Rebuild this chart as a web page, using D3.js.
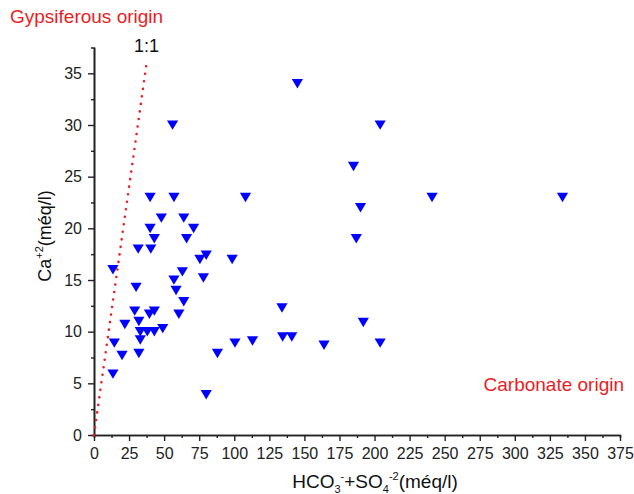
<!DOCTYPE html>
<html>
<head>
<meta charset="utf-8">
<script src="https://cdn.jsdelivr.net/npm/d3@7"></script>
<style>
  body { margin: 0; background: #fff; }
  svg { display: block; font-family: "Liberation Sans", Arial, sans-serif; }
</style>
</head>
<body>
<svg id="chart" width="634" height="494"></svg>
<script>
// HCO3- + SO4-2 (méq/l), one value per sample
const anions = [145, 204, 56, 185, 241, 334, 190, 187, 40, 57, 108, 48, 64, 40, 71, 43, 66,
  31.5, 40.5, 75.5, 80, 98.5, 13.5, 57, 78, 63, 30, 58.5, 64, 134, 29, 39.5, 43, 60.5,
  22, 32, 49, 33, 38, 43, 33, 14.5, 134.5, 141, 100.5, 113, 20, 32, 88, 13.5, 80,
  192, 164, 204]
// Ca+2 (méq/l), same order
const calcium = [34, 30, 30, 26, 23, 23, 22, 19, 23, 23, 23, 21, 21, 20, 20, 19, 19,
  18, 18, 17, 17.4, 17, 16, 15, 15.2, 15.8, 14.3, 14, 12.9, 12.3, 12, 11.7, 12, 11.7,
  10.7, 11, 10.3, 10, 10, 10, 9.2, 8.9, 9.5, 9.5, 8.9, 9.1, 7.7, 7.9, 7.9, 5.9, 3.9,
  10.9, 8.7, 8.9]
// the 1:1 reference line as drawn
const lineX = [0, 37.5]
const lineY = [0, 36]

const xTicks = d3.range(0, 376, 25)
const yTicks = d3.range(0, 36, 5)

const width = 634, height = 494
const margin = {top: 47.5, right: 14, bottom: 59, left: 94}
const red = "#ec1c24"

const svg = d3.select("#chart")

const x = d3.scaleLinear([0, 375], [margin.left, width - margin.right])
const y = d3.scaleLinear([0, 37.5], [height - margin.bottom, margin.top])

const axisStyle = g => {
  g.select(".domain").attr("stroke", "#222").attr("stroke-width", 1.6)
  g.selectAll(".tick line").attr("stroke", "#222").attr("stroke-width", 1.4)
  g.selectAll(".tick text").attr("fill", "#222").attr("font-size", 16)
}

// minor ticks first, then major axes on top
svg.append("g")
    .attr("transform", `translate(0,${y(0)})`)
    .call(d3.axisBottom(x).tickValues(d3.range(12.5, 375, 25)).tickSize(3).tickFormat(""))
    .call(axisStyle)
svg.append("g")
    .attr("transform", `translate(${x(0)},0)`)
    .call(d3.axisLeft(y).tickValues(d3.range(2.5, 37.5, 5)).tickSize(3).tickFormat(""))
    .call(axisStyle)

svg.append("g")
    .attr("transform", `translate(0,${y(0)})`)
    .call(d3.axisBottom(x).tickValues(xTicks).tickSize(6).tickSizeOuter(0).tickPadding(7))
    .call(axisStyle)
svg.append("g")
    .attr("transform", `translate(${x(0)},0)`)
    .call(d3.axisLeft(y).tickValues(yTicks).tickSize(6).tickSizeOuter(0).tickPadding(6))
    .call(axisStyle)

// 1:1 dotted line
svg.append("path")
    .attr("d", d3.line()(lineX.map((v, i) => [x(v), y(lineY[i])])))
    .attr("fill", "none")
    .attr("stroke", red)
    .attr("stroke-width", 2.6)
    .attr("stroke-linecap", "round")
    .attr("stroke-dasharray", "0 7.6")

svg.append("text")
    .attr("x", x(lineX[1]))
    .attr("y", y(lineY[1]) - 11)
    .attr("text-anchor", "middle")
    .attr("font-size", 18)
    .attr("fill", "#111")
    .text("1:1")

// samples, downward triangles
const tri = "M-5.6,-4.6L5.6,-4.6L0,4.8Z"
svg.append("g")
    .selectAll("path")
    .data(anions.map((v, i) => [v, calcium[i]]))
    .join("path")
    .attr("transform", d => `translate(${x(d[0])},${y(d[1])})`)
    .attr("d", tri)
    .attr("fill", "#0000ff")

// annotations
svg.append("text")
    .attr("x", 10)
    .attr("y", 23)
    .attr("font-size", 19)
    .attr("fill", red)
    .text("Gypsiferous origin")

svg.append("text")
    .attr("x", 624)
    .attr("y", 391)
    .attr("text-anchor", "end")
    .attr("font-size", 19)
    .attr("fill", red)
    .text("Carbonate origin")

// axis titles
const xt = svg.append("text")
    .attr("x", 375)
    .attr("y", 488)
    .attr("text-anchor", "middle")
    .attr("font-size", 19)
    .attr("fill", "#111")
xt.append("tspan").text("HCO")
xt.append("tspan").attr("font-size", 11).attr("dy", 5).text("3")
xt.append("tspan").attr("font-size", 11).attr("dy", -13).text("-")
xt.append("tspan").attr("dy", 8).text("+SO")
xt.append("tspan").attr("font-size", 11).attr("dy", 5).text("4")
xt.append("tspan").attr("font-size", 11).attr("dy", -13).text("-2")
xt.append("tspan").attr("dy", 8).text("(méq/l)")

const yt = svg.append("text")
    .attr("transform", "translate(51,236) rotate(-90)")
    .attr("text-anchor", "middle")
    .attr("font-size", 18)
    .attr("fill", "#111")
yt.append("tspan").text("Ca")
yt.append("tspan").attr("font-size", 11).attr("dy", -8).text("+2")
yt.append("tspan").attr("dy", 8).text("(méq/l)")
</script>
</body>
</html>
